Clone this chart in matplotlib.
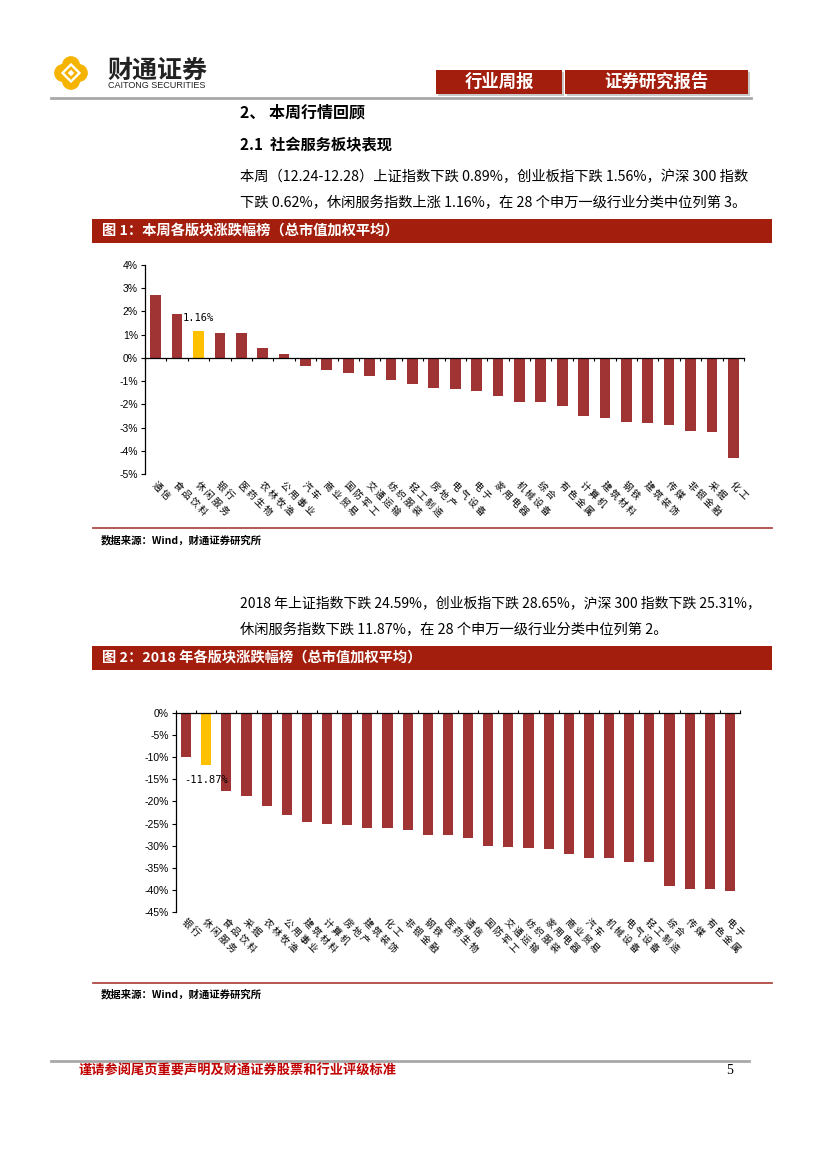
import numpy as np
import matplotlib
matplotlib.use("Agg")
import matplotlib.pyplot as plt
from matplotlib.patches import Rectangle, Circle, Polygon

plt.rcParams['font.family'] = ['Noto Sans CJK SC', 'DejaVu Sans']

# ---------------- data ----------------
cats1 = ['通信', '食品饮料', '休闲服务', '银行', '医药生物', '农林牧渔', '公用事业', '汽车',
         '商业贸易', '国防军工', '交通运输', '纺织服装', '轻工制造', '房地产', '电气设备', '电子',
         '家用电器', '机械设备', '综合', '有色金属', '计算机', '建筑材料', '钢铁', '建筑装饰',
         '传媒', '非银金融', '采掘', '化工']
vals1 = [2.71, 1.87, 1.16, 1.07, 1.07, 0.44, 0.17, -0.33, -0.53, -0.63, -0.80, -0.94, -1.13,
         -1.30, -1.34, -1.43, -1.66, -1.89, -1.89, -2.06, -2.51, -2.60, -2.74, -2.81, -2.91,
         -3.13, -3.17, -4.29]
ticks1 = [4, 3, 2, 1, 0, -1, -2, -3, -4, -5]

cats2 = ['银行', '休闲服务', '食品饮料', '采掘', '农林牧渔', '公用事业', '建筑材料', '计算机',
         '房地产', '建筑装饰', '化工', '非银金融', '钢铁', '医药生物', '通信', '国防军工',
         '交通运输', '纺织服装', '家用电器', '商业贸易', '汽车', '机械设备', '电气设备',
         '轻工制造', '综合', '传媒', '有色金属', '电子']
vals2 = [-9.84, -11.87, -17.66, -18.86, -20.96, -23.07, -24.72, -25.17, -25.40, -25.90, -26.07,
         -26.50, -27.50, -27.50, -28.17, -30.10, -30.35, -30.60, -30.80, -31.80, -32.90, -32.90,
         -33.60, -33.80, -39.20, -39.70, -39.70, -40.20]
ticks2 = [0, -5, -10, -15, -20, -25, -30, -35, -40, -45]

highlight = '休闲服务'

W, H = 827, 1170
RED = '#A03434'
GOLD = '#FFC000'
BANNER = '#A31E0C'
LABEL_FONT = ['Noto Sans CJK SC', 'DejaVu Sans']


def fx(px):
    return px / W


def fy(py):
    return 1 - py / H


def spaced(s):
    # the source labels have loose letter spacing
    return '\u2009'.join(s)


fig = plt.figure(figsize=(W / 100, H / 100), dpi=100)
fig.patch.set_facecolor('white')

# ---------------- header ----------------
lg = fig.add_axes([fx(53), fy(91), 36 / W, 36 / H])
lg.set_xlim(-1.1, 1.1)
lg.set_ylim(-1.1, 1.1)
lg.axis('off')
for cx, cy in [(0.48, 0), (-0.48, 0), (0, 0.48), (0, -0.48)]:
    lg.add_patch(Circle((cx, cy), 0.55, color='#F5B400', lw=0))
for r, c in [(0.62, 'white'), (0.42, '#F5B400'), (0.2, 'white')]:
    lg.add_patch(Polygon([(0, r), (r, 0), (0, -r), (-r, 0)], closed=True, color=c, lw=0))

fig.text(fx(107), fy(71), '财通证券', fontsize=18, fontweight='bold', va='center', color='#222222')
fig.text(fx(108), fy(86), 'CAITONG SECURITIES', fontsize=6.5, va='center', color='#222222',
         family=['Liberation Sans', 'DejaVu Sans'])

for x0, x1, txt in [(436, 562, '行业周报'), (565, 748, '证券研究报告')]:
    fig.patches.append(Rectangle((fx(x0 + 2), fy(96)), (x1 - x0) / W, 24 / H,
                                 transform=fig.transFigure, color='#C8C8C8', lw=0))
    fig.patches.append(Rectangle((fx(x0), fy(94)), (x1 - x0) / W, 24 / H,
                                 transform=fig.transFigure, color=BANNER, lw=0))
    fig.text(fx((x0 + x1) / 2), fy(82), txt, fontsize=12.5, fontweight='bold', color='white',
             ha='center', va='center')

fig.lines.append(plt.Line2D([fx(51), fx(751)], [fy(97.5), fy(97.5)], transform=fig.transFigure,
                            color='#A8A8A8', lw=2))

# ---------------- text ----------------
fig.text(fx(240), fy(112), '2、 本周行情回顾', fontsize=11.5, fontweight='bold', va='center')
fig.text(fx(240), fy(145), '2.1  社会服务板块表现', fontsize=11, fontweight='bold', va='center')
fig.text(fx(240), fy(177), '本周（12.24-12.28）上证指数下跌 0.89%，创业板指下跌 1.56%，沪深 300 指数',
         fontsize=10.3, va='center')
fig.text(fx(240), fy(203), '下跌 0.62%，休闲服务指数上涨 1.16%，在 28 个申万一级行业分类中位列第 3。',
         fontsize=10.3, va='center')

fig.text(fx(240), fy(603), '2018 年上证指数下跌 24.59%，创业板指下跌 28.65%，沪深 300 指数下跌 25.31%，',
         fontsize=10.0, va='center')
fig.text(fx(240), fy(630), '休闲服务指数下跌 11.87%，在 28 个申万一级行业分类中位列第 2。',
         fontsize=10.3, va='center')


def banner(y0, y1, txt):
    fig.patches.append(Rectangle((fx(92), fy(y1)), (772 - 92) / W, (y1 - y0) / H,
                                 transform=fig.transFigure, color=BANNER, lw=0))
    fig.text(fx(102), fy((y0 + y1) / 2), txt, fontsize=10.3, fontweight='bold', color='white',
             va='center')


def source(yline, ytext):
    fig.lines.append(plt.Line2D([fx(93), fx(772)], [fy(yline), fy(yline)], transform=fig.transFigure,
                                color='#B04A45', lw=1.3))
    fig.text(fx(101), fy(ytext), '数据来源：Wind，财通证券研究所', fontsize=7.5, fontweight='bold',
             va='center')


banner(219, 243, '图 1：本周各版块涨跌幅榜（总市值加权平均）')
banner(646, 670, '图 2：2018 年各版块涨跌幅榜（总市值加权平均）')
source(528, 540)
source(983, 994)

# ---------------- chart 1 ----------------
tick_font = ['Liberation Sans Narrow', 'Liberation Sans', 'DejaVu Sans']
x1 = np.arange(len(cats1))
ax1 = fig.add_axes([fx(145), fy(474), (744 - 145) / W, (474 - 265) / H])
cols1 = [GOLD if c == highlight else RED for c in cats1]
ax1.bar(x1, vals1, width=0.5, color=cols1, zorder=2)
ax1.set_xlim(-0.5, len(cats1) - 0.5)
ax1.set_ylim(-5, 4)
ax1.set_yticks(ticks1)
ax1.set_yticklabels([f'{t}%' for t in ticks1], family=tick_font, fontsize=7.5)
ax1.spines['top'].set_visible(False)
ax1.spines['right'].set_visible(False)
ax1.spines['bottom'].set_position(('data', 0))
ax1.set_xticks(np.arange(-0.5, len(cats1), 1))
ax1.set_xticklabels([])
ax1.tick_params(axis='y', direction='out', length=3, width=0.8, pad=2)
ax1.tick_params(axis='x', direction='out', length=2, width=0.8)
for s in ['left', 'bottom']:
    ax1.spines[s].set_linewidth(0.9)
for i, c in enumerate(cats1):
    ax1.text(i + 0.05, -0.03, spaced(c), transform=ax1.get_xaxis_transform(), rotation=-45,
             rotation_mode='anchor', ha='left', va='top', fontsize=6.8, family=LABEL_FONT)
i1 = cats1.index(highlight)
ax1.text(i1, vals1[i1] + 0.55, f'{vals1[i1]:.2f}%', ha='center', va='center', fontsize=7.5,
         family=['DejaVu Sans Mono'])

# ---------------- chart 2 ----------------
x2 = np.arange(len(cats2))
ax2 = fig.add_axes([fx(176), fy(912), (740 - 176) / W, (912 - 713) / H])
cols2 = [GOLD if c == highlight else RED for c in cats2]
ax2.bar(x2, vals2, width=0.5, color=cols2, zorder=2)
ax2.set_xlim(-0.5, len(cats2) - 0.5)
ax2.set_ylim(-45, 0)
ax2.set_yticks(ticks2)
ax2.set_yticklabels([f'{t}%' for t in ticks2], family=tick_font, fontsize=7.5)
ax2.spines['bottom'].set_visible(False)
ax2.spines['right'].set_visible(False)
ax2.xaxis.tick_top()
ax2.set_xticks(np.arange(-0.5, len(cats2), 1))
ax2.set_xticklabels([])
ax2.tick_params(axis='y', direction='out', length=3, width=0.8, pad=2)
ax2.tick_params(axis='x', direction='out', length=2.5, width=0.8)
for s in ['left', 'top']:
    ax2.spines[s].set_linewidth(0.9)
for i, c in enumerate(cats2):
    ax2.text(i + 0.05, -0.025, spaced(c), transform=ax2.get_xaxis_transform(), rotation=-45,
             rotation_mode='anchor', ha='left', va='top', fontsize=6.8, family=LABEL_FONT)
i2 = cats2.index(highlight)
ax2.text(i2, vals2[i2] - 3.2, f'{vals2[i2]:.2f}%', ha='center', va='center', fontsize=7.5,
         family=['DejaVu Sans Mono'])

# ---------------- footer ----------------
fig.lines.append(plt.Line2D([fx(51), fx(749)], [fy(1061), fy(1061)], transform=fig.transFigure,
                            color='#A8A8A8', lw=2))
fig.text(fx(79), fy(1071), '谨请参阅尾页重要声明及财通证券股票和行业评级标准', fontsize=9.5,
         fontweight='bold', color='#C00000', va='center')
fig.text(fx(726), fy(1071), '5', fontsize=10, va='center', family=['Liberation Serif', 'DejaVu Serif'])

fig.savefig('out.png', dpi=100)
